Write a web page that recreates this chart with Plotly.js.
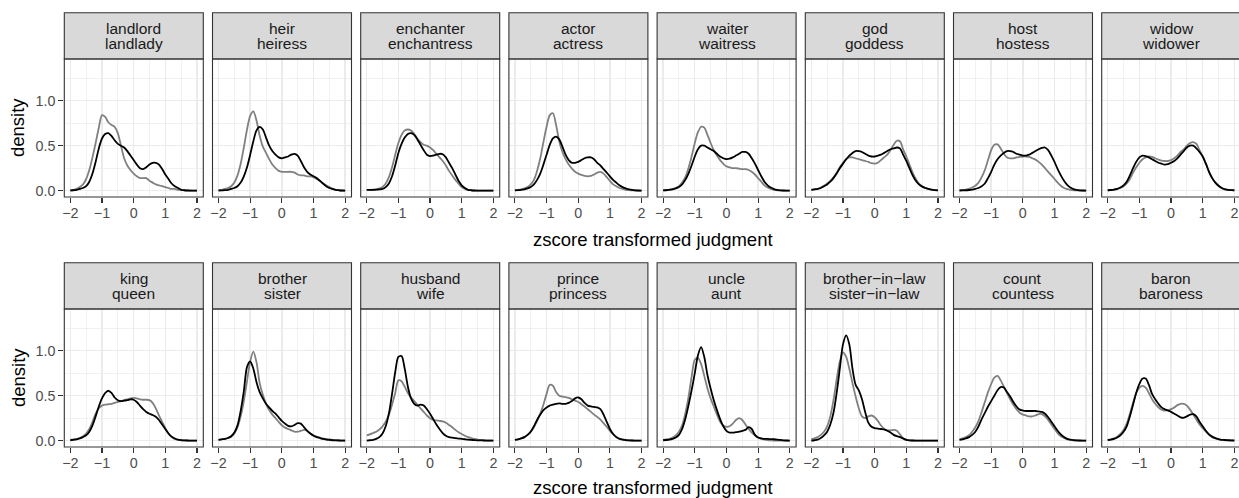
<!DOCTYPE html>
<html><head><meta charset="utf-8">
<script src="https://cdn.plot.ly/plotly-3.0.1.min.js"></script>
<style>html,body{margin:0;padding:0;overflow:hidden;background:#fff}</style>
</head><body><div id="chart" style="width:1242px;height:498px"></div>
<script>
// ---------- data ----------
const xGrid = [-2.0,-1.9,-1.8,-1.7,-1.6,-1.5,-1.4,-1.3,-1.2,-1.1,-1.0,
  -0.9,-0.8,-0.7,-0.6,-0.5,-0.4,-0.3,-0.2,-0.1,0.0,
  0.1,0.2,0.3,0.4,0.5,0.6,0.7,0.8,0.9,1.0,
  1.1,1.2,1.3,1.4,1.5,1.6,1.7,1.8,1.9,2.0];

const stripTop = ["landlord","heir","enchanter","actor","waiter","god","host","widow",
  "king","brother","husband","prince","uncle","brother\u2212in\u2212law","count","baron"];
const stripBottom = ["landlady","heiress","enchantress","actress","waitress","goddess","hostess","widower",
  "queen","sister","wife","princess","aunt","sister\u2212in\u2212law","countess","baroness"];

const xTickVals = [-2,-1,0,1,2];
const yTickVals = [0,0.5,1.0];

const landlordBlack = [0.0,0.005,0.01,0.02,0.03,0.05,0.10,0.19,0.32,0.47,0.58, 0.63,0.64,0.61,0.56,0.52,0.50,0.48,0.44,0.39,0.34, 0.29,0.25,0.24,0.26,0.29,0.31,0.31,0.29,0.24,0.18, 0.13,0.08,0.05,0.03,0.01,0.005,0.002,0.001,0,0];
const landlordGray  = [0.01,0.01,0.02,0.04,0.07,0.13,0.23,0.37,0.53,0.70,0.84, 0.82,0.76,0.73,0.71,0.64,0.50,0.36,0.28,0.23,0.19, 0.16,0.14,0.14,0.14,0.11,0.09,0.07,0.06,0.05,0.04, 0.03,0.02,0.02,0.01,0.01,0.005,0.003,0.002,0.001,0];
const heirBlack = [0.0,0.003,0.006,0.01,0.02,0.03,0.05,0.09,0.16,0.26,0.40, 0.55,0.67,0.71,0.68,0.59,0.50,0.44,0.40,0.37,0.36, 0.37,0.38,0.40,0.41,0.39,0.33,0.26,0.21,0.18,0.16, 0.14,0.11,0.08,0.05,0.03,0.02,0.01,0.005,0.002,0.001];
const heirGray  = [0.01,0.01,0.02,0.03,0.05,0.09,0.17,0.30,0.48,0.68,0.83, 0.88,0.78,0.61,0.49,0.42,0.35,0.29,0.25,0.22,0.21, 0.21,0.21,0.21,0.20,0.18,0.17,0.17,0.16,0.16,0.15, 0.13,0.11,0.08,0.06,0.04,0.02,0.01,0.005,0.002,0.001];
const enchanterBlack = [0.01,0.01,0.01,0.012,0.015,0.02,0.04,0.08,0.16,0.28,0.42, 0.52,0.59,0.63,0.64,0.62,0.57,0.51,0.45,0.40,0.385, 0.39,0.40,0.41,0.405,0.37,0.31,0.25,0.18,0.11,0.06, 0.03,0.01,0.005,0.002,0.001,0,0,0,0,0];
const enchanterGray  = [0.01,0.01,0.012,0.015,0.025,0.04,0.08,0.15,0.26,0.40,0.53, 0.62,0.67,0.68,0.67,0.63,0.58,0.54,0.51,0.50,0.48, 0.45,0.41,0.37,0.33,0.28,0.22,0.17,0.12,0.08,0.04, 0.02,0.01,0.005,0.002,0.001,0,0,0,0,0];
const actorBlack = [0.003,0.006,0.01,0.015,0.025,0.04,0.07,0.12,0.19,0.29,0.40, 0.51,0.58,0.60,0.57,0.49,0.40,0.34,0.31,0.31,0.32, 0.34,0.36,0.37,0.37,0.35,0.31,0.28,0.24,0.20,0.16, 0.12,0.09,0.06,0.04,0.025,0.015,0.008,0.004,0.002,0.001];
const actorGray  = [0.005,0.01,0.015,0.025,0.04,0.07,0.12,0.22,0.36,0.54,0.71, 0.84,0.86,0.73,0.55,0.43,0.35,0.29,0.245,0.21,0.19, 0.175,0.165,0.16,0.165,0.18,0.20,0.21,0.19,0.15,0.11, 0.07,0.05,0.03,0.02,0.01,0.006,0.004,0.002,0.001,0];
const waiterBlack = [0.003,0.005,0.01,0.015,0.025,0.04,0.07,0.12,0.19,0.28,0.38, 0.46,0.50,0.50,0.48,0.46,0.44,0.41,0.38,0.36,0.35, 0.355,0.37,0.39,0.41,0.43,0.43,0.41,0.36,0.30,0.23, 0.16,0.10,0.06,0.035,0.018,0.008,0.004,0.002,0.001,0];
const waiterGray  = [0.005,0.008,0.012,0.02,0.03,0.05,0.09,0.15,0.25,0.38,0.53, 0.65,0.71,0.70,0.62,0.53,0.45,0.39,0.34,0.30,0.27, 0.26,0.25,0.25,0.245,0.24,0.24,0.23,0.21,0.18,0.14, 0.10,0.06,0.035,0.02,0.01,0.005,0.003,0.001,0,0];
const godBlack = [0.01,0.015,0.02,0.03,0.05,0.07,0.10,0.14,0.19,0.25,0.30, 0.35,0.39,0.42,0.44,0.44,0.43,0.41,0.39,0.38,0.38, 0.39,0.40,0.42,0.44,0.46,0.47,0.48,0.47,0.40,0.33, 0.25,0.17,0.11,0.07,0.045,0.03,0.02,0.012,0.007,0.004];
const godGray  = [0.01,0.015,0.02,0.035,0.055,0.08,0.11,0.15,0.20,0.26,0.31, 0.35,0.37,0.37,0.36,0.35,0.34,0.33,0.32,0.305,0.30, 0.31,0.34,0.37,0.40,0.45,0.51,0.555,0.55,0.46,0.38, 0.29,0.20,0.13,0.08,0.05,0.03,0.02,0.01,0.006,0.004];
const hostBlack = [0.002,0.003,0.005,0.008,0.012,0.02,0.03,0.05,0.08,0.14,0.21, 0.29,0.35,0.39,0.42,0.44,0.44,0.43,0.41,0.40,0.39, 0.39,0.40,0.42,0.44,0.46,0.475,0.48,0.45,0.39,0.32, 0.24,0.17,0.11,0.065,0.035,0.018,0.008,0.004,0.002,0.001];
const hostGray  = [0.005,0.008,0.012,0.02,0.035,0.055,0.09,0.15,0.23,0.34,0.45, 0.51,0.515,0.47,0.41,0.37,0.36,0.36,0.37,0.375,0.38, 0.38,0.375,0.36,0.345,0.32,0.29,0.25,0.21,0.17,0.13, 0.09,0.055,0.03,0.018,0.01,0.005,0.003,0.002,0.001,0];
const widowBlack = [0.005,0.008,0.012,0.02,0.035,0.06,0.10,0.17,0.25,0.32,0.37, 0.39,0.385,0.37,0.35,0.33,0.31,0.30,0.29,0.295,0.31, 0.33,0.36,0.40,0.44,0.48,0.50,0.50,0.47,0.43,0.38, 0.30,0.21,0.14,0.09,0.055,0.03,0.016,0.01,0.007,0.005];
const widowGray  = [0.005,0.008,0.012,0.02,0.03,0.05,0.08,0.13,0.20,0.26,0.31, 0.35,0.37,0.38,0.375,0.36,0.345,0.335,0.33,0.33,0.34, 0.36,0.39,0.43,0.46,0.50,0.53,0.54,0.52,0.45,0.38, 0.30,0.21,0.14,0.09,0.055,0.03,0.017,0.01,0.006,0.004];
const kingBlack = [0.005,0.01,0.015,0.025,0.04,0.06,0.10,0.17,0.27,0.38,0.47, 0.53,0.555,0.53,0.48,0.45,0.44,0.445,0.45,0.46,0.455, 0.43,0.39,0.35,0.32,0.30,0.285,0.265,0.23,0.18,0.13, 0.08,0.045,0.025,0.012,0.006,0.003,0.002,0.001,0,0];
const kingGray  = [0.01,0.015,0.02,0.03,0.05,0.08,0.13,0.21,0.30,0.36,0.39, 0.40,0.405,0.41,0.42,0.43,0.44,0.45,0.46,0.47,0.475, 0.47,0.46,0.455,0.455,0.45,0.42,0.36,0.28,0.21,0.14, 0.08,0.04,0.02,0.01,0.005,0.003,0.002,0.001,0,0];
const brotherBlack = [0.01,0.015,0.02,0.03,0.05,0.09,0.17,0.33,0.55,0.82,0.88, 0.80,0.65,0.54,0.47,0.41,0.37,0.33,0.30,0.26,0.22, 0.19,0.165,0.16,0.175,0.195,0.19,0.15,0.11,0.08,0.055, 0.04,0.03,0.02,0.013,0.008,0.005,0.003,0.002,0.001,0];
const brotherGray  = [0.01,0.015,0.02,0.03,0.045,0.08,0.15,0.27,0.44,0.66,0.88, 0.99,0.87,0.64,0.51,0.41,0.34,0.29,0.25,0.21,0.17, 0.145,0.13,0.115,0.10,0.10,0.11,0.12,0.11,0.08,0.06, 0.045,0.035,0.025,0.02,0.015,0.01,0.007,0.005,0.003,0.002];
const husbandBlack = [0.0,0.005,0.01,0.02,0.04,0.08,0.16,0.30,0.52,0.76,0.93, 0.94,0.80,0.60,0.47,0.41,0.39,0.40,0.39,0.35,0.30, 0.24,0.18,0.13,0.085,0.055,0.04,0.033,0.028,0.024,0.02, 0.016,0.012,0.009,0.006,0.004,0.003,0.002,0.001,0.001,0];
const husbandGray  = [0.06,0.07,0.085,0.10,0.125,0.16,0.21,0.29,0.40,0.53,0.67, 0.66,0.60,0.53,0.48,0.44,0.40,0.36,0.32,0.28,0.25, 0.23,0.225,0.22,0.215,0.20,0.175,0.15,0.12,0.095,0.075, 0.055,0.04,0.03,0.02,0.013,0.008,0.005,0.003,0.002,0.001];
const princeBlack = [0.01,0.015,0.025,0.04,0.065,0.10,0.16,0.23,0.29,0.34,0.37, 0.39,0.40,0.41,0.415,0.41,0.41,0.42,0.44,0.47,0.48, 0.46,0.42,0.39,0.38,0.375,0.37,0.35,0.29,0.21,0.13, 0.075,0.04,0.02,0.012,0.007,0.004,0.002,0.001,0,0];
const princeGray  = [0.01,0.015,0.025,0.04,0.065,0.10,0.15,0.22,0.30,0.40,0.52, 0.62,0.61,0.54,0.50,0.49,0.485,0.475,0.46,0.445,0.43, 0.405,0.38,0.35,0.32,0.29,0.265,0.235,0.195,0.155,0.11, 0.075,0.045,0.025,0.014,0.008,0.004,0.002,0.001,0,0];
const uncleBlack = [0.005,0.008,0.012,0.02,0.035,0.065,0.13,0.24,0.39,0.56,0.75, 0.95,1.04,0.93,0.73,0.58,0.45,0.34,0.24,0.16,0.11, 0.09,0.09,0.095,0.10,0.11,0.12,0.15,0.13,0.065,0.035, 0.025,0.02,0.02,0.018,0.016,0.013,0.008,0.004,0.002,0.001];
const uncleGray  = [0.01,0.015,0.02,0.035,0.06,0.10,0.17,0.30,0.48,0.71,0.90, 0.92,0.85,0.72,0.58,0.47,0.38,0.29,0.21,0.17,0.155, 0.16,0.19,0.23,0.25,0.23,0.18,0.13,0.09,0.06,0.035, 0.02,0.012,0.007,0.004,0.002,0.001,0,0,0,0];
const inlawBlack = [0.0,0.005,0.012,0.03,0.06,0.10,0.18,0.31,0.53,0.80,1.07, 1.17,1.07,0.80,0.62,0.56,0.46,0.32,0.20,0.155,0.14, 0.135,0.13,0.125,0.11,0.09,0.065,0.05,0.04,0.025,0.01, 0.004,0.002,0.001,0.001,0,0,0,0,0,0];
const inlawGray  = [0.015,0.025,0.04,0.065,0.10,0.16,0.27,0.45,0.68,0.88,0.98, 0.93,0.80,0.64,0.49,0.36,0.27,0.25,0.27,0.28,0.26, 0.22,0.17,0.13,0.115,0.115,0.12,0.11,0.07,0.025,0.01, 0.004,0.002,0.001,0,0,0,0,0,0,0];
const countBlack = [0.01,0.015,0.025,0.04,0.065,0.10,0.16,0.24,0.31,0.38,0.44, 0.50,0.56,0.595,0.59,0.54,0.49,0.43,0.38,0.345,0.335, 0.33,0.33,0.33,0.33,0.325,0.32,0.30,0.26,0.21,0.16, 0.11,0.07,0.04,0.02,0.012,0.007,0.004,0.002,0.001,0];
const countGray  = [0.015,0.025,0.04,0.06,0.10,0.15,0.22,0.32,0.43,0.54,0.63, 0.70,0.72,0.67,0.60,0.53,0.46,0.40,0.35,0.31,0.29, 0.28,0.27,0.27,0.28,0.295,0.295,0.27,0.23,0.18,0.13, 0.085,0.05,0.03,0.015,0.008,0.004,0.002,0.001,0,0];
const baronBlack = [0.008,0.012,0.02,0.035,0.06,0.10,0.16,0.27,0.40,0.53,0.63, 0.69,0.69,0.62,0.52,0.46,0.41,0.37,0.35,0.335,0.32, 0.30,0.28,0.26,0.255,0.27,0.29,0.295,0.27,0.21,0.16, 0.11,0.07,0.045,0.028,0.017,0.01,0.008,0.005,0.003,0.002];
const baronGray  = [0.008,0.015,0.025,0.045,0.075,0.12,0.19,0.30,0.42,0.53,0.59, 0.61,0.59,0.53,0.46,0.41,0.37,0.345,0.335,0.34,0.35, 0.37,0.395,0.41,0.41,0.39,0.345,0.29,0.235,0.18,0.14, 0.10,0.065,0.04,0.025,0.015,0.009,0.005,0.003,0.002,0.001];

const blackSeries = [landlordBlack,heirBlack,enchanterBlack,actorBlack,waiterBlack,godBlack,hostBlack,widowBlack,
  kingBlack,brotherBlack,husbandBlack,princeBlack,uncleBlack,inlawBlack,countBlack,baronBlack];
const graySeries = [landlordGray,heirGray,enchanterGray,actorGray,waiterGray,godGray,hostGray,widowGray,
  kingGray,brotherGray,husbandGray,princeGray,uncleGray,inlawGray,countGray,baronGray];

// ---------- layout ----------
const W = 1242, H = 498;
const FONT = "Liberation Sans, Arial, Helvetica, sans-serif";
const panelLeft0 = 64.3, panelStep = 148.2, panelW = 139;
const rowTop = [59, 309], panelH = 138, stripH = 46.3;

const traces = [];
const layout = {
  width: W, height: H,
  margin: {l:0, r:0, t:0, b:0},
  paper_bgcolor: "#ffffff", plot_bgcolor: "#ffffff",
  showlegend: false,
  font: {family: FONT},
  shapes: [], annotations: []
};

for (let i = 0; i < 16; i++) {
  const row = Math.floor(i / 8), col = i % 8;
  const left = panelLeft0 + col * panelStep, right = left + panelW;
  const top = rowTop[row], bottom = top + panelH;
  const n = i + 1;
  const xk = n === 1 ? "xaxis" : "xaxis" + n;
  const yk = n === 1 ? "yaxis" : "yaxis" + n;
  const xr = n === 1 ? "x" : "x" + n;
  const yr = n === 1 ? "y" : "y" + n;

  layout[xk] = {
    domain: [left / W, right / W], anchor: yr,
    range: [-2.19, 2.2], tickmode: "array", tickvals: xTickVals,
    ticks: "outside", ticklen: 5, tickwidth: 1.1, tickcolor: "#333333",
    ticklabelstandoff: -2,
    showline: false, zeroline: false,
    showgrid: true, gridcolor: "#EBEBEB", gridwidth: 1.4,
    minor: {tickmode: "linear", tick0: 0, dtick: 0.5, showgrid: true, gridcolor: "#EBEBEB", gridwidth: 0.7, ticks: ""},
    tickfont: {family: FONT, size: 14.3, color: "#4D4D4D"},
    fixedrange: true
  };
  layout[yk] = {
    domain: [1 - bottom / H, 1 - top / H], anchor: xr,
    range: [-0.07, 1.463], tickmode: "array", tickvals: yTickVals, tickformat: ".1f",
    ticks: col === 0 ? "outside" : "", ticklen: 5, tickwidth: 1.1, tickcolor: "#333333",
    showticklabels: col === 0,
    showline: false, zeroline: false,
    showgrid: true, gridcolor: "#EBEBEB", gridwidth: 1.4,
    minor: {tickmode: "linear", tick0: 0, dtick: 0.25, showgrid: true, gridcolor: "#EBEBEB", gridwidth: 0.7, ticks: ""},
    tickfont: {family: FONT, size: 14.3, color: "#4D4D4D"},
    fixedrange: true
  };

  traces.push({
    type: "scatter", mode: "lines", x: xGrid, y: graySeries[i],
    xaxis: xr, yaxis: yr, line: {color: "#808080", width: 1.8, shape: "spline", smoothing: 0.8},
    hoverinfo: "skip"
  });
  traces.push({
    type: "scatter", mode: "lines", x: xGrid, y: blackSeries[i],
    xaxis: xr, yaxis: yr, line: {color: "#000000", width: 1.8, shape: "spline", smoothing: 0.8},
    hoverinfo: "skip"
  });

  // strip background
  layout.shapes.push({
    type: "rect", xref: xr + " domain", yref: yr + " domain",
    x0: 0, x1: 1, y0: 1, y1: 1 + stripH / panelH,
    fillcolor: "#D9D9D9", line: {color: "#333333", width: 1.1}, layer: "above"
  });
  // panel border
  layout.shapes.push({
    type: "rect", xref: xr + " domain", yref: yr + " domain",
    x0: 0, x1: 1, y0: 0, y1: 1,
    fillcolor: "rgba(0,0,0,0)", line: {color: "#333333", width: 1.1}, layer: "above"
  });
  // strip text (two lines)
  const cx = (left + panelW / 2) / W;
  const stripTopPx = top - stripH;
  layout.annotations.push({
    xref: "paper", yref: "paper", x: cx, y: 1 - (stripTopPx + 15.3) / H,
    xanchor: "center", yanchor: "middle", showarrow: false,
    text: stripTop[i], font: {family: FONT, size: 15.5, color: "#1A1A1A"}
  });
  layout.annotations.push({
    xref: "paper", yref: "paper", x: cx, y: 1 - (stripTopPx + 31.0) / H,
    xanchor: "center", yanchor: "middle", showarrow: false,
    text: stripBottom[i], font: {family: FONT, size: 15.5, color: "#1A1A1A"}
  });
}

// axis titles per row
const titleY = [239.5, 487.5];
for (let r = 0; r < 2; r++) {
  layout.annotations.push({
    xref: "paper", yref: "paper", x: 652.5 / W, y: 1 - titleY[r] / H,
    xanchor: "center", yanchor: "middle", showarrow: false,
    text: "zscore transformed judgment", font: {family: FONT, size: 18.5, color: "#000000"}
  });
  layout.annotations.push({
    xref: "paper", yref: "paper", x: 18 / W, y: 1 - (128 + r * 250) / H,
    xanchor: "center", yanchor: "middle", showarrow: false, textangle: -90,
    text: "density", font: {family: FONT, size: 18.5, color: "#000000"}
  });
}

Plotly.newPlot("chart", traces, layout, {staticPlot: true, displayModeBar: false});
</script>
</body></html>
